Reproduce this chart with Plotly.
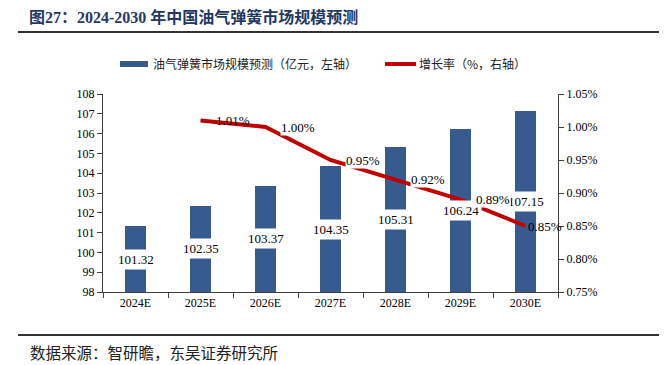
import plotly.graph_objects as go

# ---- data ----
years = ["2024E", "2025E", "2026E", "2027E", "2028E", "2029E", "2030E"]
market = [101.32, 102.35, 103.37, 104.35, 105.31, 106.24, 107.15]   # 亿元, left axis
growth_years = ["2025E", "2026E", "2027E", "2028E", "2029E", "2030E"]
growth = [1.01, 1.00, 0.95, 0.92, 0.89, 0.85]                          # %, right axis

title_text = "图27：2024-2030 年中国油气弹簧市场规模预测"
bar_name = "油气弹簧市场规模预测（亿元，左轴）"
line_name = "增长率（%，右轴）"
source_text = "数据来源：智研瞻，东吴证券研究所"

# ---- layout geometry (pixels) ----
W, H = 669, 365
L, R, T, B = 103, 558, 94, 292


def px(x):
    return (x - L) / (R - L)


def py(y):
    return (B - y) / (B - T)


BLUE = "#375A8F"
RED = "#C00000"
AX = "#404040"
SERIF = "Liberation Serif, Noto Sans CJK SC"
CJK = "Noto Sans CJK SC"

fig = go.Figure()
fig.add_bar(x=years, y=market, marker_color=BLUE, marker_line_width=0,
            width=0.31, yaxis="y", showlegend=False, hoverinfo="skip")
fig.add_scatter(x=growth_years, y=growth, mode="lines",
                line=dict(color=RED, width=4), yaxis="y2",
                showlegend=False, hoverinfo="skip")

ann = []
# bar value labels (centred inside each bar, white box)
for yr, v in zip(years, market):
    ann.append(dict(x=yr, y=(98 + v) / 2, xref="x", yref="y", text=f"{v:.2f}",
                    showarrow=False, bgcolor="white", borderpad=2,
                    font=dict(family=SERIF, size=13, color="black")))
# growth labels
label_bg = ["rgba(0,0,0,0)", "white", "white", "white", "white", "rgba(0,0,0,0)"]
label_shift = [14, 14, 14, 14, 14, 1]
for yr, g, bg, s in zip(growth_years, growth, label_bg, label_shift):
    ann.append(dict(x=yr, y=g, xref="x", yref="y2", text=f"{g:.2f}%",
                    showarrow=False, xanchor="left", xshift=s, bgcolor=bg,
                    borderpad=0,
                    font=dict(family=SERIF, size=13, color="black")))

# title
ann.append(dict(x=px(27), y=py(17), xref="paper", yref="paper",
                text=f"<b>{title_text}</b>", showarrow=False,
                xanchor="left", yanchor="middle",
                font=dict(family=SERIF, size=16, color="#1F3864")))
# legend texts
ann.append(dict(x=px(151), y=py(64), xref="paper", yref="paper", text=bar_name,
                showarrow=False, xanchor="left", yanchor="middle",
                font=dict(family=CJK, size=12, color="#222222")))
ann.append(dict(x=px(417), y=py(64), xref="paper", yref="paper", text=line_name,
                showarrow=False, xanchor="left", yanchor="middle",
                font=dict(family=CJK, size=12, color="#222222")))
# source
ann.append(dict(x=px(28), y=py(352), xref="paper", yref="paper", text=source_text,
                showarrow=False, xanchor="left", yanchor="middle",
                font=dict(family=CJK, size=15.5, color="#222222")))

shapes = [
    # title rule
    dict(type="line", xref="paper", yref="paper", x0=px(18), x1=px(659),
         y0=py(32), y1=py(32), line=dict(color="#333333", width=2)),
    # source rule
    dict(type="line", xref="paper", yref="paper", x0=px(18), x1=px(659),
         y0=py(335), y1=py(335), line=dict(color="#333333", width=2)),
    # legend swatches
    dict(type="rect", xref="paper", yref="paper", x0=px(120), x1=px(148),
         y0=py(61), y1=py(67), fillcolor=BLUE, line=dict(width=0)),
    dict(type="line", xref="paper", yref="paper", x0=px(385), x1=px(416),
         y0=py(64), y1=py(64), line=dict(color=RED, width=4)),
]

fig.update_layout(
    width=W, height=H,
    margin=dict(l=L, r=W - R, t=T, b=H - B, pad=0),
    paper_bgcolor="white", plot_bgcolor="white",
    showlegend=False,
    annotations=ann, shapes=shapes,
    bargap=0,
    xaxis=dict(type="category", range=[-0.5, 6.5], tickson="boundaries",
               ticks="outside", ticklen=5, tickcolor=AX, showline=True,
               linecolor=AX, linewidth=1, showgrid=False, zeroline=False,
               tickfont=dict(family=SERIF, size=12, color="black")),
    yaxis=dict(range=[98, 108], dtick=1, ticks="outside", ticklen=5,
               tickcolor=AX, showline=True, linecolor=AX, linewidth=1,
               showgrid=False, zeroline=False,
               tickfont=dict(family=SERIF, size=12, color="black")),
    yaxis2=dict(range=[0.75, 1.05], dtick=0.05, tickformat=".2f",
                ticksuffix="%", overlaying="y", side="right",
                ticks="outside", ticklen=5, tickcolor=AX, showline=True,
                linecolor=AX, linewidth=1, showgrid=False, zeroline=False,
                tickfont=dict(family=SERIF, size=12, color="black")),
)

fig.write_html("out.html", config={"displayModeBar": False},
               post_script="document.body.style.margin='0px';"
                           "document.body.style.overflow='hidden';")
